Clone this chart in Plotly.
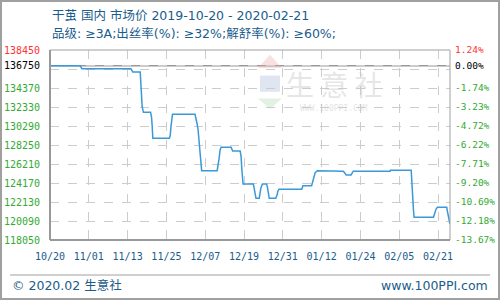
import plotly.graph_objects as go

# ---------------- data ----------------
base_price = 136750
x_tick_pos = [0, 12, 24, 36, 48, 60, 72, 84, 96, 108, 120]
x_tick_labels = ["10/20", "11/01", "11/13", "11/25", "12/07", "12/19",
                 "12/31", "01/12", "01/24", "02/05", "02/21"]
y_grid_vals = [118050, 120090, 122130, 124170, 126210, 128250,
               130290, 132330, 134370, 136410, 138450]
y_label_vals = [118050, 120090, 122130, 124170, 126210, 128250,
                130290, 132330, 134370, 136750, 138450]

# day slots (position along the time axis) and price (元/吨)
slot = [0, 9.3, 9.9, 25.0, 25.6, 27.9, 28.5, 28.9, 31.1, 31.4, 31.6, 31.8,
        36.9, 37.2, 37.4, 37.6, 37.9, 44.85, 45.2, 45.5, 45.8, 46.1, 46.4, 46.7, 46.9,
        51.7, 51.96, 52.3, 52.6, 52.9, 56.0, 56.3, 56.5, 58.8, 59.1, 59.3, 59.7,
        62.9, 63.1, 63.4, 63.7, 64.7, 64.95, 65.2, 65.7, 67.0, 67.3, 67.5, 67.8,
        69.8, 70.1, 70.3, 70.4, 70.8, 77.85, 78.2, 80.9, 81.2, 81.4, 81.7, 82.0, 82.7,
        88.2, 90.7, 91.1, 91.6, 93.1, 93.5, 93.8, 105.2, 105.3, 111.7, 111.8, 112.0,
        112.4, 112.6, 118.6, 118.8, 119.1, 119.4, 119.8, 122.7, 122.8, 123.2, 123.7]
price = [136750, 136750, 136450, 136450, 136090, 136090, 132360, 131760, 131760, 131256, 130290, 128970,
         128970, 129324, 130215, 131117, 131550, 131550, 131117, 130505, 129861, 128787, 127531, 126285, 125490,
         125490, 125920, 126822, 127713, 128000, 128000, 127788, 127600, 127600, 126994, 125748, 124060,
         124060, 123601, 122882, 122530, 122530, 123064, 123601, 124060, 124060, 123601, 123064, 122530,
         122530, 122699, 122957, 123236, 123490, 123490, 123880, 123880, 124310, 124675, 125029, 125276, 125490,
         125490, 125440, 125276, 125030, 125030, 125244, 125440, 125440, 125540, 125540, 124675, 123064,
         121271, 120490, 120490, 120734, 121089, 121378, 121560, 121560, 121271, 120380, 119768]

title_line1 = "干茧 国内 市场价 2019-10-20 - 2020-02-21"
title_line2 = "品级: ≥3A;出丝率(%): ≥32%;解舒率(%): ≥60%;"
footer_left = "© 2020.02 生意社"
footer_right = "www.100PPI.com"

# ---------------- styling ----------------
TXT = "#1a5c8c"
GREEN = "#33aa33"
RED = "#ff3333"
MONO = "DejaVu Sans Mono"
SANS = "DejaVu Sans, Noto Sans CJK SC"
CJK = "Noto Sans CJK SC"


def pct(v):
    return (v - base_price) / base_price * 100


def color_for(v):
    if v > base_price:
        return RED
    if v == base_price:
        return "#000000"
    return GREEN


y_min, y_max = y_grid_vals[0], y_grid_vals[-1]

left_vals = y_grid_vals + [base_price]
left_text = []
for v in left_vals:
    if v in y_label_vals:
        left_text.append(f'<span style="color:{color_for(v)}">{v}</span>')
    else:
        left_text.append("")

right_vals = [pct(v) for v in y_label_vals]
right_text = [f'<span style="color:{color_for(v)}">{pct(v):.2f}%</span>' for v in y_label_vals]

fig = go.Figure()
fig.add_trace(go.Scatter(x=slot, y=price, mode="lines",
                         line=dict(color="#3b99d8", width=1.5),
                         hoverinfo="skip", showlegend=False))
# invisible trace to activate right axis
fig.add_trace(go.Scatter(x=[slot[0]], y=[pct(price[0])], yaxis="y2", mode="markers",
                         marker=dict(opacity=0), hoverinfo="skip", showlegend=False))

fig.update_layout(
    width=500, height=300,
    margin=dict(l=50, r=50, t=50, b=60, autoexpand=False),
    paper_bgcolor="white", plot_bgcolor="white",
    xaxis=dict(range=[0, 123.7], tickmode="array", tickvals=x_tick_pos, ticktext=x_tick_labels,
               showgrid=True, gridcolor="#cccccc", griddash="dash", gridwidth=1,
               showline=False, zeroline=False, ticks="", automargin=False,
               tickfont=dict(family=MONO, size=10, color=TXT), ticklabelstandoff=9),
    yaxis=dict(range=[y_min, y_max], tickmode="array", tickvals=left_vals, ticktext=left_text,
               showgrid=True, gridcolor="#cccccc", griddash="dash", gridwidth=1,
               showline=False, zeroline=False, ticks="", automargin=False,
               tickfont=dict(family=MONO, size=10, color=GREEN), ticklabelstandoff=9),
    yaxis2=dict(range=[pct(y_min), pct(y_max)], overlaying="y", side="right",
                tickmode="array", tickvals=right_vals, ticktext=right_text,
                showgrid=False, zeroline=False, showline=False, ticks="", automargin=False,
                tickfont=dict(family=MONO, size=9.5, color=GREEN), ticklabelstandoff=4),
    font=dict(family=SANS),
)

shapes = []
# base price solid line
shapes.append(dict(type="line", xref="paper", yref="y", x0=0, x1=1, y0=base_price, y1=base_price,
                   line=dict(color="#999999", width=1.5), layer="below"))
# plot frame
shapes.append(dict(type="rect", xref="paper", yref="paper", x0=0, x1=1, y0=0, y1=1,
                   line=dict(color="#a0a0a0", width=1)))
shapes.append(dict(type="line", xref="paper", yref="paper", x0=0, x1=0, y0=0, y1=1,
                   line=dict(color="#999999", width=2)))
shapes.append(dict(type="line", xref="paper", yref="paper", x0=0, x1=1, y0=0, y1=0,
                   line=dict(color="#999999", width=2)))
# outer image frame
shapes.append(dict(type="rect", xref="paper", yref="paper",
                   x0=-49 / 400, x1=449 / 400, y0=-59 / 190, y1=1 + 49 / 190,
                   line=dict(color="#a0a0a0", width=2)))
# footer separator
shapes.append(dict(type="line", xref="paper", yref="paper",
                   x0=-40 / 400, x1=440 / 400, y0=-35 / 190, y1=-35 / 190,
                   line=dict(color="#a0a0a0", width=1)))
# watermark logo
shapes.append(dict(type="path", xref="paper", yref="paper",
                   path="M 0.52 0.905 L 0.58 0.905 L 0.55 0.975 Z",
                   fillcolor="rgba(240,170,170,0.35)", line=dict(width=0), layer="below"))
shapes.append(dict(type="rect", xref="paper", yref="paper",
                   x0=0.525, x1=0.575, y0=0.78, y1=0.865,
                   fillcolor="rgba(150,170,210,0.3)", line=dict(width=0), layer="below"))
shapes.append(dict(type="path", xref="paper", yref="paper",
                   path="M 0.52 0.745 L 0.58 0.745 L 0.55 0.69 Z",
                   fillcolor="rgba(160,210,160,0.3)", line=dict(width=0), layer="below"))
fig.update_layout(shapes=shapes)

ann = []
ann.append(dict(text=title_line1, xref="paper", yref="paper", x=0, y=1 + 35 / 190,
                xanchor="left", yanchor="middle", showarrow=False,
                font=dict(family=SANS, size=12.5, color=TXT)))
ann.append(dict(text=title_line2, xref="paper", yref="paper", x=0, y=1 + 16 / 190,
                xanchor="left", yanchor="middle", showarrow=False,
                font=dict(family=SANS, size=12.5, color=TXT)))
ann.append(dict(text=footer_left, xref="paper", yref="paper", x=-40 / 400, y=-45 / 190,
                xanchor="left", yanchor="middle", showarrow=False,
                font=dict(family=SANS, size=12.5, color=TXT)))
ann.append(dict(text=footer_right, xref="paper", yref="paper", x=440 / 400, y=-45 / 190,
                xanchor="right", yanchor="middle", showarrow=False,
                font=dict(family=SANS, size=12.5, color=TXT)))
# watermark text
ann.append(dict(text="生 意 社", xref="paper", yref="paper", x=0.71, y=0.82,
                xanchor="center", yanchor="middle", showarrow=False,
                font=dict(family=CJK, size=28, color="rgba(200,200,200,0.45)")))
ann.append(dict(text="WWW.100PPI.COM", xref="paper", yref="paper", x=0.71, y=0.69,
                xanchor="center", yanchor="middle", showarrow=False,
                font=dict(family=MONO, size=8, color="rgba(200,200,200,0.5)")))
fig.update_layout(annotations=ann)

fig.write_html("out.html")
